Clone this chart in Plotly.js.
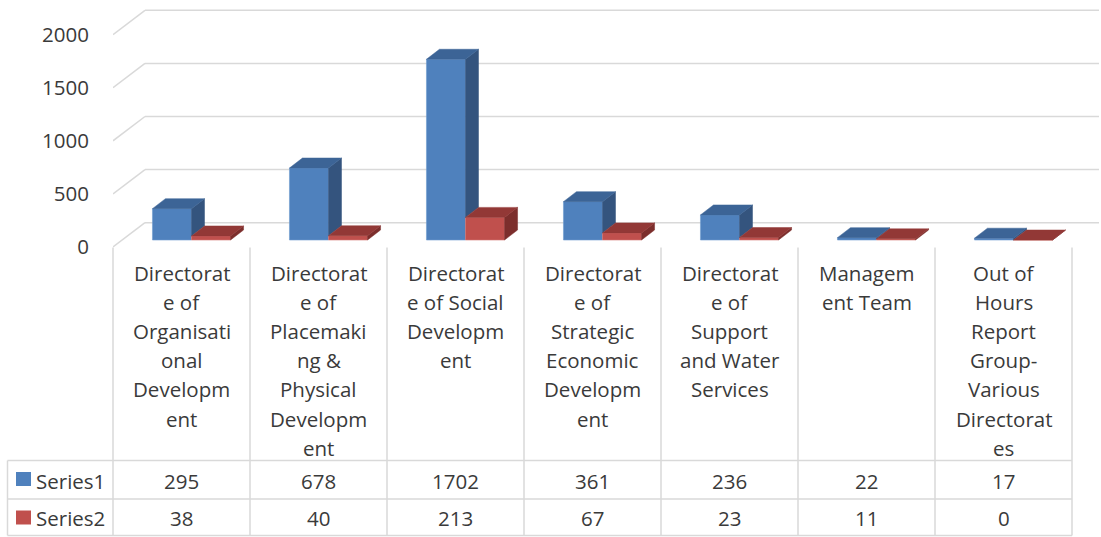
<!DOCTYPE html>
<html>
<head>
<meta charset="utf-8">
<script src="https://cdn.plot.ly/plotly-3.0.1.min.js"></script>
<style>body{margin:0;background:#fff}#chart{width:1101px;height:537px}</style>
</head>
<body>
<div id="chart"></div>
<script>
// category labels, wrapped the way the table cells wrap them
var categories = [
  'Directorat\ne of\nOrganisati\nonal\nDevelopm\nent',
  'Directorat\ne of\nPlacemaki\nng &\nPhysical\nDevelopm\nent',
  'Directorat\ne of Social\nDevelopm\nent',
  'Directorat\ne of\nStrategic\nEconomic\nDevelopm\nent',
  'Directorat\ne of\nSupport\nand Water\nServices',
  'Managem\nent Team',
  'Out of\nHours\nReport\nGroup-\nVarious\nDirectorat\nes'
];
var series1 = [295, 678, 1702, 361, 236, 22, 17];
var series2 = [38, 40, 213, 67, 23, 11, 0];
var seriesNames = ['Series1', 'Series2'];
var yTicks = [0, 500, 1000, 1500, 2000];

// page geometry (pixels)
var W = 1101, H = 537;
var ML = 113, MR = 2;
var plotW = W - ML - MR;
var colW = 137;          // one category column
var k = 0.1062;          // px per unit of value
var base = 240;          // screen y of zero in the bar plane
var frontShift = 7 / k;  // front edge of floor sits 7px lower
var backShift = 17.3 / k; // back wall sits higher
var frontX = -0.5, backX = -0.5 + 32 / colW;

var dX = 13 / colW, dY = 10 / k;   // bar depth
var barW = 0.285, off1 = -0.212, off2 = off1 + barW;

function X(p) { return (p - ML) / plotW; }   // pixel -> paper x
function Y(p) { return 1 - p / H; }          // pixel -> paper y

var txt = '#3a3a3a';
var font = 'Open Sans, sans-serif';
var fs = 20.5;
var c1 = {front: '#4F81BD', top: '#3C6496', side: '#34547E'};
var c2 = {front: '#C0504D', top: '#923836', side: '#7C2E2C'};

var idx = categories.map(function (c, i) { return i; });

function faces(vals, off, clipBy) {
  var tx = [], ty = [], sx = [], sy = [];
  vals.forEach(function (v, i) {
    var x0 = i + off, x1 = x0 + barW;
    tx.push(x0, x1, x1 + dX, x0 + dX, x0, null);
    ty.push(v, v, v + dY, v + dY, v, null);
    var lo = clipBy ? Math.min(clipBy[i], v) : 0;
    sx.push(x1, x1, x1 + dX, x1 + dX, x1, null);
    sy.push(lo, v, v + dY, lo + dY, lo, null);
  });
  return {tx: tx, ty: ty, sx: sx, sy: sy};
}

function poly(x, y, col) {
  return {type: 'scatter', x: x, y: y, mode: 'lines', fill: 'toself',
    fillcolor: col, line: {color: col, width: 0.5}, hoverinfo: 'skip', showlegend: false};
}

var f1 = faces(series1, off1, series2);
var f2 = faces(series2, off2, null);

var data = [
  {type: 'bar', x: idx, y: series1, name: seriesNames[0], width: barW, offset: off1,
   marker: {color: c1.front, line: {color: '#6f9bd0', width: 0.6}}, showlegend: false},
  {type: 'bar', x: idx, y: series2, name: seriesNames[1], width: barW, offset: off2,
   marker: {color: c2.front, line: {color: '#d57572', width: 0.6}}, showlegend: false},
  poly(f1.sx, f1.sy, c1.side),
  poly(f1.tx, f1.ty, c1.top),
  poly(f2.sx, f2.sy, c2.side),
  poly(f2.tx, f2.ty, c2.top)
];

var grid = '#d9d9d9';
var shapes = [];
var xEnd = -0.5 + plotW / colW;
yTicks.forEach(function (v) {
  shapes.push({type: 'line', layer: 'below', xref: 'x', yref: 'y',
    x0: frontX, y0: v - frontShift, x1: backX, y1: v + backShift, line: {color: grid, width: 1.5}});
  shapes.push({type: 'line', layer: 'below', xref: 'x', yref: 'y',
    x0: backX, y0: v + backShift, x1: xEnd, y1: v + backShift, line: {color: grid, width: 1.5}});
});

// data table grid
var tableTop = 247.5, row1 = 460.5, row2 = 499, tableBot = 535.5, tableLeft = 7.5;
for (var j = 0; j <= categories.length; j++) {
  var px = ML + colW * j;
  shapes.push({type: 'line', xref: 'paper', yref: 'paper', x0: X(px), x1: X(px),
    y0: Y(tableTop), y1: Y(tableBot), line: {color: grid, width: 1.5}});
}
shapes.push({type: 'line', xref: 'paper', yref: 'paper', x0: X(tableLeft), x1: X(tableLeft),
  y0: Y(row1), y1: Y(tableBot), line: {color: grid, width: 1.5}});
[row1, row2, tableBot].forEach(function (p) {
  shapes.push({type: 'line', xref: 'paper', yref: 'paper', x0: X(tableLeft), x1: X(ML + colW * categories.length),
    y0: Y(p), y1: Y(p), line: {color: grid, width: 1.5}});
});

// legend keys in the table
[[c1.front, 479], [c2.front, 517.5]].forEach(function (k2) {
  shapes.push({type: 'rect', xref: 'paper', yref: 'paper', x0: X(16), x1: X(31),
    y0: Y(k2[1] - 7), y1: Y(k2[1] + 7), fillcolor: k2[0], line: {width: 0}});
});

var annotations = [];
categories.forEach(function (c, i) {
  c.split('\n').forEach(function (line, j) {
    annotations.push({xref: 'x', yref: 'paper', x: i, y: Y(272.5 + j * 29.2), text: line,
      showarrow: false, xanchor: 'center', yanchor: 'middle', font: {family: font, size: fs, color: txt}});
  });
  annotations.push({xref: 'x', yref: 'paper', x: i, y: Y(480.5), text: String(series1[i]),
    showarrow: false, yanchor: 'middle', font: {family: font, size: fs, color: txt}});
  annotations.push({xref: 'x', yref: 'paper', x: i, y: Y(517.5), text: String(series2[i]),
    showarrow: false, yanchor: 'middle', font: {family: font, size: fs, color: txt}});
});
seriesNames.forEach(function (n, s) {
  annotations.push({xref: 'paper', yref: 'paper', x: X(34), y: Y(s ? 517.5 : 480.5), text: n,
    showarrow: false, xanchor: 'left', yanchor: 'middle', font: {family: font, size: fs, color: txt}});
});

var yr = [(base - H) / k, base / k];

var layout = {
  width: W, height: H,
  margin: {l: ML, r: MR, t: 0, b: 0},
  paper_bgcolor: '#fff', plot_bgcolor: 'rgba(0,0,0,0)',
  barmode: 'overlay',
  showlegend: false,
  xaxis: {range: [-0.5, xEnd], showgrid: false, zeroline: false, showticklabels: false, ticks: '', fixedrange: true},
  yaxis: {range: yr, showgrid: false, zeroline: false, showticklabels: false, ticks: '', fixedrange: true},
  yaxis2: {overlaying: 'y', side: 'left', range: [yr[0] + frontShift, yr[1] + frontShift],
    tickmode: 'array', tickvals: yTicks, showgrid: false, zeroline: false, ticks: '',
    ticklabelstandoff: 23, tickfont: {family: font, size: fs, color: txt}, fixedrange: true},
  shapes: shapes,
  annotations: annotations
};

// dummy trace so the second y axis draws its labels
data.push({type: 'scatter', x: [0], y: [0], yaxis: 'y2', mode: 'markers',
  marker: {opacity: 0}, hoverinfo: 'skip', showlegend: false});

Plotly.newPlot('chart', data, layout, {displayModeBar: false, staticPlot: true});
</script>
</body>
</html>
